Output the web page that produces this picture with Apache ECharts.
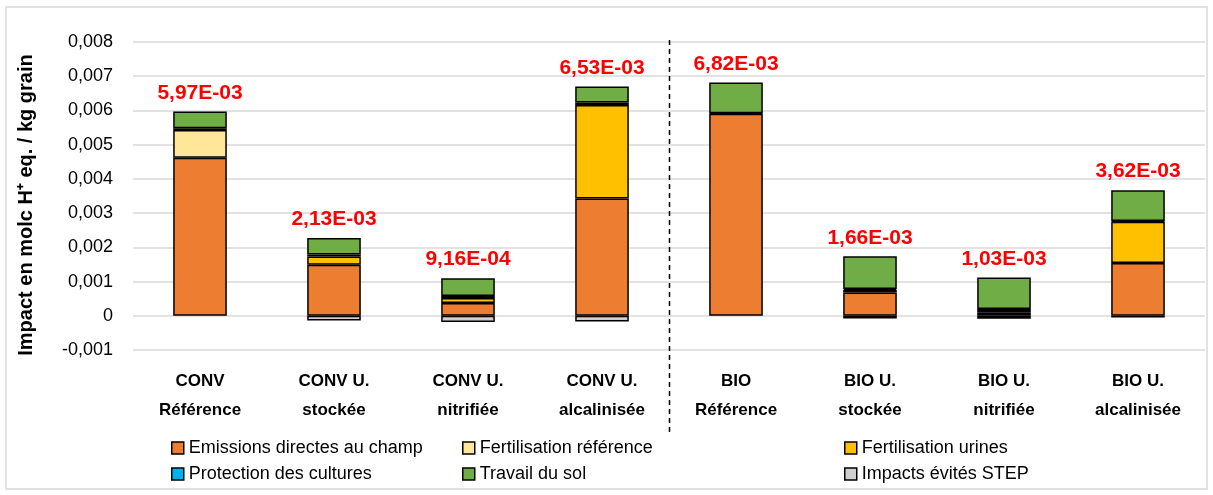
<!DOCTYPE html>
<html>
<head>
<meta charset="utf-8">
<script src="https://cdn.jsdelivr.net/npm/echarts@6/dist/echarts.min.js"></script>
<style>
  html, body { margin: 0; padding: 0; background: #fff; }
  #chart { width: 1213px; height: 495px; }
</style>
</head>
<body>
<div id="chart"></div>
<script>
var categories = ['CONV\nRéférence', 'CONV U.\nstockée', 'CONV U.\nnitrifiée', 'CONV U.\nalcalinisée',
    'BIO\nRéférence', 'BIO U.\nstockée', 'BIO U.\nnitrifiée', 'BIO U.\nalcalinisée'];
var emissions = [0.00462, 0.00149, 0.00037, 0.00343, 0.00590, 0.00068, 0.00009, 0.00154];
var fertReference = [0.00081, 0, 0, 0, 0, 0, 0, 0];
var fertUrines = [0, 0.00024, 0.00015, 0.00273, 0, 0.00007, 0.00005, 0.00121];
var protection = [0.00005, 0.00006, 0.00006, 0.00007, 0.00002, 0.00003, 0.00006, 0.00002];
var travail = [0.00049, 0.00048, 0.00052, 0.00047, 0.00090, 0.00096, 0.00092, 0.00090];
var evites = [0, -0.00014, -0.00018, -0.00017, 0, -0.00008, -0.00009, -0.00005];
var totals = [5.97e-3, 2.13e-3, 9.16e-4, 6.53e-3, 6.82e-3, 1.66e-3, 1.03e-3, 3.62e-3];
var yTicks = [-0.001, 0, 0.001, 0.002, 0.003, 0.004, 0.005, 0.006, 0.007, 0.008];

var FONT = 'Liberation Sans';

// 5.97e-3 -> "5,97E-03"
function sci(v) {
    var p = v.toExponential(2).split('e');
    var e = parseInt(p[1], 10);
    var es = (e < 0 ? '-' : '+') + (Math.abs(e) < 10 ? '0' : '') + Math.abs(e);
    return p[0].replace('.', ',') + 'E' + es;
}

function mkSeries(name, data, color) {
    return {
        name: name,
        type: 'bar',
        stack: 'total',
        barWidth: '40%',
        // empty segments are not drawn (no stray border at zero)
        data: data.map(function (v) { return v === 0 ? '-' : v; }),
        itemStyle: { color: color, borderColor: '#000', borderWidth: 1.5 }
    };
}

var chart = echarts.init(document.getElementById('chart'));

var series = [
    mkSeries('Emissions directes au champ', emissions, '#ED7D31'),
    mkSeries('Fertilisation référence', fertReference, '#FFE699'),
    mkSeries('Fertilisation urines', fertUrines, '#FFC000'),
    mkSeries('Protection des cultures', protection, '#00B0F0'),
    mkSeries('Travail du sol', travail, '#70AD47'),
    mkSeries('Impacts évités STEP', evites, '#D0CECE')
];
// totals shown above the top segment
series[4].label = {
    show: true,
    position: 'top',
    distance: 8,
    color: '#FF0000',
    fontFamily: FONT,
    fontWeight: 'bold',
    fontSize: 21,
    formatter: function (p) { return sci(totals[p.dataIndex]); }
};

var legendText = { fontFamily: FONT, fontSize: 18, color: '#000' };
function mkLegend(names, left) {
    return {
        data: names,
        orient: 'vertical',
        left: left,
        top: 434,
        itemWidth: 12,
        itemHeight: 12,
        itemGap: 8,
        icon: 'rect',
        itemStyle: { borderColor: '#000', borderWidth: 1.5 },
        textStyle: legendText,
        selectedMode: false
    };
}

var option = {
    animation: false,
    grid: { left: 133, right: 8, top: 42, bottom: 145 },
    legend: [
        mkLegend(['Emissions directes au champ', 'Protection des cultures'], 166),
        mkLegend(['Fertilisation référence', 'Travail du sol'], 457),
        mkLegend(['Fertilisation urines', 'Impacts évités STEP'], 839)
    ],
    xAxis: {
        type: 'category',
        data: categories,
        axisLine: { show: false, onZero: false },
        axisTick: { show: false },
        axisLabel: {
            margin: 17,
            fontFamily: FONT,
            fontWeight: 'bold',
            fontSize: 17,
            color: '#000',
            lineHeight: 29
        }
    },
    yAxis: {
        type: 'value',
        min: yTicks[0],
        max: yTicks[yTicks.length - 1],
        interval: 0.001,
        name: 'Impact en molc H\u207A eq. / kg grain',
        nameLocation: 'middle',
        nameGap: 97,
        nameTextStyle: {
            fontFamily: FONT, fontWeight: 'bold', fontSize: 20, color: '#000',
            padding: [0, 18, 0, 0]
        },
        axisLine: { show: false },
        axisTick: { show: false },
        splitLine: { lineStyle: { color: '#D9D9D9', width: 1.5 } },
        axisLabel: {
            margin: 20,
            fontFamily: FONT,
            fontSize: 18,
            color: '#000',
            formatter: function (v) {
                return String(Math.round(v * 1000) / 1000).replace('.', ',');
            }
        }
    },
    series: series
};
chart.setOption(option);

// separator between CONV and BIO groups + outer frame
var xa = chart.convertToPixel({ xAxisIndex: 0 }, categories[3]);
var xb = chart.convertToPixel({ xAxisIndex: 0 }, categories[4]);
var xs = Math.round((xa + xb) / 2) + 0.5;
chart.setOption({
    graphic: [
        {
            type: 'line',
            shape: { x1: xs, y1: 40, x2: xs, y2: 432 },
            style: { stroke: '#000', lineWidth: 1.5, lineDash: [5, 4] }
        },
        {
            type: 'rect',
            shape: { x: 6, y: 7, width: 1201, height: 482 },
            style: { fill: null, stroke: '#D9D9D9', lineWidth: 1.5 },
            silent: true
        }
    ]
});
</script>
</body>
</html>
